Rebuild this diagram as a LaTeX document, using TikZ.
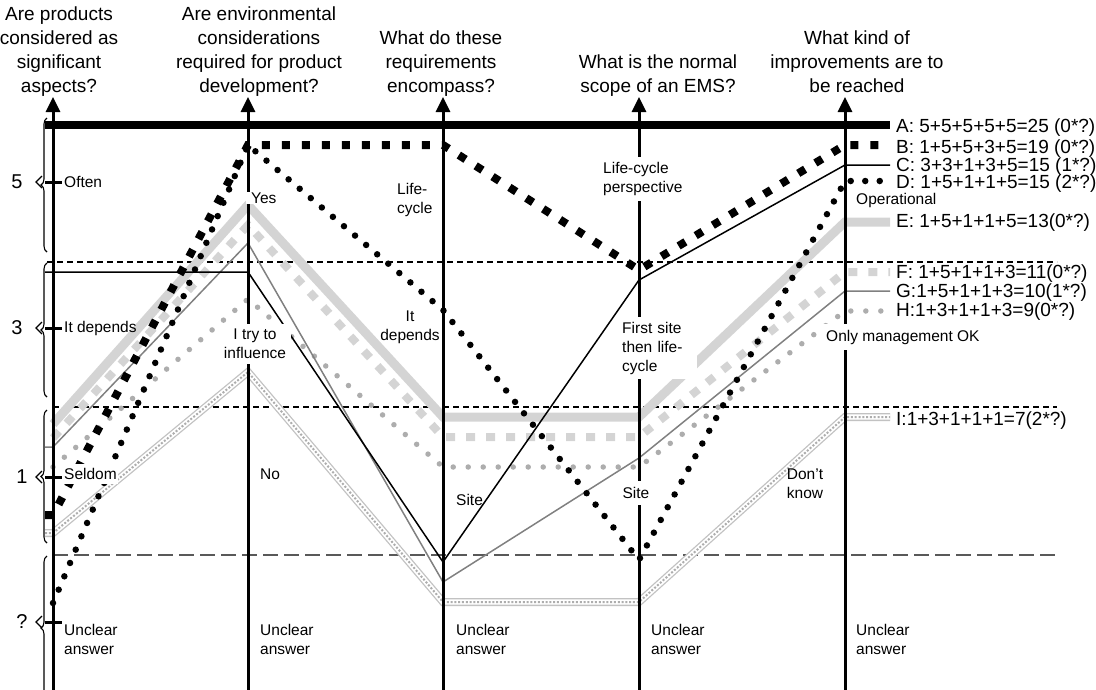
\documentclass[tikz,border=0pt]{standalone}
\usepackage{fontspec}
\setmainfont{Liberation Sans}
\usetikzlibrary{arrows.meta,decorations.pathreplacing}
\definecolor{palegrey}{gray}{0.83}
\definecolor{midgrey}{gray}{0.5}
\definecolor{dotgrey}{gray}{0.68}
\definecolor{dashgrey}{gray}{0.35}

\begin{document}
\begin{tikzpicture}[x=1pt,y=-1pt]
    \tikzstyle{qaxis}=[line width=3pt,-{Triangle[width=14pt,length=15pt]}]
    \tikzstyle{levtick}=[line width=3pt]
    \tikzstyle{levbrace}=[decorate,decoration={brace,amplitude=6pt},line width=1.1pt]
    \tikzstyle{gridline}=[dash pattern=on 6pt off 4pt,line width=1.1pt]
    \tikzstyle{longgrid}=[dash pattern=on 15pt off 6pt,line width=1.5pt,draw=dashgrey]
    \tikzstyle{lineA}=[line width=8.5pt]
    \tikzstyle{lineB}=[line width=8pt,dash pattern=on 8pt off 12pt]
    \tikzstyle{lineC}=[line width=1.5pt]
    \tikzstyle{lineD}=[line width=6.5pt,line cap=round,dash pattern=on 0pt off 14.5pt]
    \tikzstyle{lineE}=[line width=9pt,draw=palegrey]
    \tikzstyle{lineF}=[line width=8pt,draw=palegrey,dash pattern=on 9pt off 11pt]
    \tikzstyle{lineG}=[line width=1.5pt,draw=midgrey]
    \tikzstyle{lineH}=[line width=5.5pt,draw=dotgrey,line cap=round,dash pattern=on 0pt off 15pt]
    \tikzstyle{lineI}=[line width=8pt,draw=dotgrey!75,postaction={draw=white,line width=5.4pt},postaction={draw=dotgrey,line width=2pt,dash pattern=on 2pt off 1.8pt}]
    \tikzstyle{question}=[font=\fontsize{19}{24}\selectfont,align=center,anchor=north,inner sep=0pt]
    \tikzstyle{answer}=[font=\fontsize{15.5}{19}\selectfont,inner sep=1pt]
    \tikzstyle{scorelevel}=[font=\fontsize{20}{24}\selectfont,inner sep=0pt]
    \tikzstyle{total}=[font=\fontsize{19}{24}\selectfont,anchor=west,inner sep=0pt]
    \tikzstyle{cover}=[fill=white]
    \useasboundingbox (0,0) rectangle (1096,689);

    % questions
    \node[question] (q1) at (59,7)  {Are products\\considered as\\significant\\aspects?};
    \node[question] (q2) at (259,7) {Are environmental\\considerations\\required for product\\development?};
    \node[question] (q3) at (441,31) {What do these\\requirements\\encompass?};
    \node[question] (q4) at (658,55) {What is the normal\\scope of an EMS?};
    \node[question] (q5) at (857,31) {What kind of\\improvements are to\\be reached};

    % score levels
    \node[scorelevel] (lev5) at (17,182) {5};
    \node[scorelevel] (lev3) at (17,328) {3};
    \node[scorelevel] (lev1) at (22,477) {1};
    \node[scorelevel] (levq) at (22,622) {?};
    \draw[levbrace] (47,252) -- (47,118);
    \draw[levbrace] (47,397) -- (47,263);
    \draw[levbrace] (47,543) -- (47,410);
    \draw[levbrace] (47,700) -- (47,556);
    \draw[line width=1.1pt] (42,176) -- (36,182) -- (42,188);
    \draw[line width=1.1pt] (42,322) -- (36,328) -- (42,334);
    \draw[line width=1.1pt] (42,471) -- (36,477) -- (42,483);
    \draw[line width=1.1pt] (42,616) -- (36,622) -- (42,628);

    % band limits
    \draw[gridline] (47,262) -- (1057,262);
    \draw[gridline] (53,407) -- (1057,407);
    \draw[longgrid] (53,555) -- (1057,555);

    % grey answers
    \draw[lineI] (45,533) -- (53,533) -- (248,372) -- (443,602) -- (639,602) -- (845,417) -- (890,417);
    \draw[lineE] (53,424) -- (248,205) -- (443,417) -- (639,417) -- (845,222) -- (890,222);
    \draw[lineF] (53,438) -- (248,225) -- (443,437) -- (639,437) -- (845,272) -- (890,272);
    \draw[lineH] (53,467) -- (248,299) -- (443,467) -- (639,467) -- (845,311) -- (890,311);
    \draw[lineG] (45,447) -- (53,447) -- (248,243) -- (443,582) -- (639,458) -- (845,291) -- (890,291);

    % axes
    \draw[qaxis] (53,692) -- (53,97);
    \draw[qaxis] (248,692) -- (248,97);
    \draw[qaxis] (443,692) -- (443,97);
    \draw[qaxis] (639,692) -- (639,97);
    \draw[qaxis] (845,692) -- (845,97);
    \draw[levtick] (45,182) -- (62,182);
    \draw[levtick] (45,328) -- (62,328);
    \draw[levtick] (45,477) -- (62,477);
    \draw[levtick] (45,622) -- (62,622);

    % black answers
    \draw[lineD] (53,603) -- (248,145) -- (443,310) -- (639,560) -- (845,181) -- (890,181);
    \draw[lineC] (45,272) -- (248,272) -- (443,562) -- (639,280) -- (845,165) -- (890,165);
    \draw[lineB] (45,515) -- (53,515) -- (248,145) -- (443,145) -- (639,270) -- (845,145) -- (890,145);
    \draw[lineA] (45,125) -- (890,125);

    % answer texts
    \node[answer,anchor=west] (often) at (63,182) {Often};
    \node[answer,anchor=west] (depends1) at (63,328) {It depends};
    \node[answer,anchor=west,cover,inner ysep=4pt] (seldom) at (63,474) {Seldom};
    \node[answer,anchor=west,align=left] (unclear1) at (63,639) {Unclear\\answer};

    \node[answer,anchor=west,cover,inner xsep=5pt] (yes) at (246,198) {Yes};
    \node[answer,align=center,cover,inner sep=5pt] (influence) at (255,344) {I try to\\influence};
    \node[answer,anchor=west] (no) at (259,474) {No};
    \node[answer,anchor=west,align=left] (unclear2) at (259,639) {Unclear\\answer};

    \node[answer,anchor=west,align=left] (lifecycle) at (396,200) {Life-\\cycle};
    \node[answer,align=center] (depends3) at (410,327) {It\\depends};
    \node[answer,anchor=west] (site3) at (455,500) {Site};
    \node[answer,anchor=west,align=left] (unclear3) at (455,639) {Unclear\\answer};

    \node[answer,anchor=west,align=left,cover,inner sep=5pt] (perspective) at (598,179) {Life-cycle\\perspective};
    \node[answer,anchor=west,align=left,cover,inner sep=5pt,text width=70pt] (firstsite) at (617,348) {First site\\then life-\\cycle};
    \node[answer,cover,inner sep=6pt] (site4) at (636,493) {Site};
    \node[answer,anchor=west,align=left] (unclear4) at (650,639) {Unclear\\answer};

    \node[answer,anchor=west] (operational) at (855,200) {Operational};
    \node[answer,anchor=west,cover,inner sep=6pt] (management) at (820,337) {Only management OK};
    \node[answer,align=center] (dontknow) at (805,484) {Don't\\know};
    \node[answer,anchor=west,align=left] (unclear5) at (855,639) {Unclear\\answer};

    % totals
    \node[total] (totA) at (896,128) {A: 5+5+5+5+5=25 (0*?)};
    \node[total] (totB) at (896,149) {B: 1+5+5+3+5=19 (0*?)};
    \node[total] (totC) at (896,167) {C: 3+3+1+3+5=15 (1*?)};
    \node[total] (totD) at (896,184) {D: 1+5+1+1+5=15 (2*?)};
    \node[total] (totE) at (896,223) {E: 1+5+1+1+5=13(0*?)};
    \node[total] (totF) at (896,274) {F: 1+5+1+1+3=11(0*?)};
    \node[total] (totG) at (896,293) {G:1+5+1+1+3=10(1*?)};
    \node[total] (totH) at (896,312) {H:1+3+1+1+3=9(0*?)};
    \node[total] (totI) at (896,421) {I:1+3+1+1+1=7(2*?)};
\end{tikzpicture}
\end{document}
